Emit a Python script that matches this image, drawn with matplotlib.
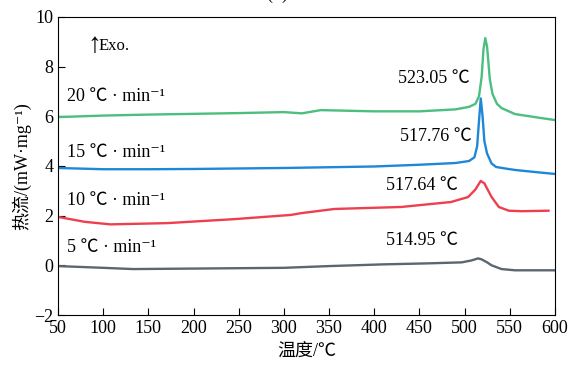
import matplotlib.pyplot as plt

plt.rcParams['font.family'] = ['Liberation Serif', 'Noto Sans CJK SC', 'DejaVu Sans']

# 5 K/min
t5 = [50, 100, 133, 200, 300, 350, 411, 460, 497, 508, 515, 519, 525, 530, 541, 556, 600]
h5 = [-0.03, -0.1, -0.15, -0.13, -0.1, -0.03, 0.04, 0.08, 0.12, 0.2, 0.28, 0.24, 0.12, 0.0, -0.15, -0.2, -0.2]

# 10 K/min
t10 = [50, 80, 108, 171, 245, 308, 319, 356, 430, 485, 504, 512, 518, 522, 530, 538, 549, 563, 593]
h10 = [1.95, 1.75, 1.65, 1.7, 1.86, 2.03, 2.1, 2.27, 2.35, 2.55, 2.75, 3.05, 3.4, 3.3, 2.75, 2.35, 2.2, 2.18, 2.2]

# 15 K/min
t15 = [50, 100, 150, 200, 250, 300, 350, 400, 450, 490, 505, 511, 514, 516, 518, 520, 522, 525, 530, 535, 545, 556, 580, 600]
h15 = [3.92, 3.87, 3.87, 3.88, 3.9, 3.92, 3.95, 3.98, 4.05, 4.12, 4.2, 4.35, 4.8, 5.8, 6.72, 6.0, 5.0, 4.5, 4.1, 3.96, 3.9, 3.84, 3.75, 3.68]

# 20 K/min
t20 = [50, 100, 150, 200, 250, 300, 320, 341, 400, 450, 490, 505, 512, 516, 519, 521, 523, 525, 528, 531, 536, 541, 556, 585, 600]
h20 = [5.97, 6.03, 6.07, 6.1, 6.13, 6.17, 6.12, 6.25, 6.2, 6.2, 6.28, 6.38, 6.5, 6.8, 7.6, 8.7, 9.15, 8.8, 7.5, 6.9, 6.5, 6.33, 6.09, 5.93, 5.85]

rate_labels = ['5 ℃ · min⁻¹', '10 ℃ · min⁻¹', '15 ℃ · min⁻¹', '20 ℃ · min⁻¹']
peak_labels = ['514.95 ℃', '517.64 ℃', '517.76 ℃', '523.05 ℃']

fig = plt.figure(figsize=(5.72, 3.69), dpi=100)
ax = fig.add_axes([0.1014, 0.1463, 0.8686, 0.8077])

ax.plot(t5, h5, color='#5b6670', lw=1.7)
ax.plot(t10, h10, color='#ee3f50', lw=1.7)
ax.plot(t15, h15, color='#1f88d6', lw=1.7)
ax.plot(t20, h20, color='#4cbe7e', lw=1.7)

fs = 13
ax.set_xlim(50, 600)
ax.set_ylim(-2, 10)
ax.set_xticks(range(50, 601, 50))
ax.set_yticks(range(-2, 11, 2))
ax.tick_params(direction='in', length=5, labelsize=fs, top=False, right=False)
ax.set_yticklabels(['−2', '0', '2', '4', '6', '8', '10'])
ax.set_xlabel('温度/℃', fontsize=fs, labelpad=4)
ax.set_ylabel('热流/(mW·mg⁻¹)', fontsize=fs, labelpad=2)

# rate labels on left
for y, s in zip([0.7, 2.63, 4.56, 6.78], rate_labels):
    ax.text(60, y, s, fontsize=fs, va='center', ha='left')
# peak labels
for x, y, s in zip([493, 493, 508.5, 506], [1.02, 3.23, 5.17, 7.54], peak_labels):
    ax.text(x, y, s, fontsize=fs, va='center', ha='right')

ax.text(82, 8.85, '↑', fontsize=20, va='center', ha='left')
ax.text(95, 8.82, 'Exo.', fontsize=fs - 1, va='center', ha='left')

fig.text(0.52, 1 + 1 / 369, '(d) DSC', fontsize=fs, ha='center', va='baseline')

fig.savefig('out.png', dpi=100)
